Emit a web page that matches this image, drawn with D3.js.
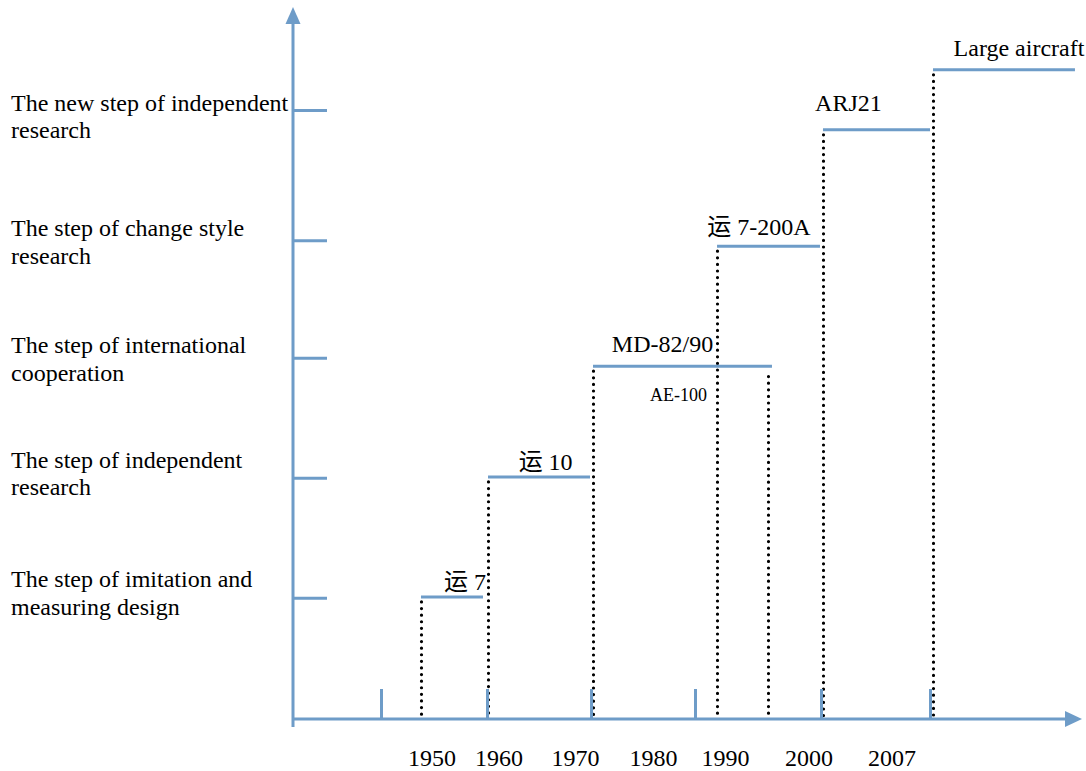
<!DOCTYPE html>
<html>
<head>
<meta charset="utf-8">
<script src="https://cdn.jsdelivr.net/npm/d3@7"></script>
<style>
	body { margin: 0; background: #fff; }
	svg text { font-family: "Liberation Serif", "Times New Roman", "Noto Sans CJK SC", serif; fill: #000; }
</style>
</head>
<body>
<svg id="steps" width="1086" height="771" viewBox="0 0 1086 771"></svg>
<script>
// stages on the vertical axis, bottom to top (levels in axis units)
const stage_names = [
	["The step of imitation and", "measuring design"],
	["The step of independent", "research"],
	["The step of international", "cooperation"],
	["The step of change style", "research"],
	["The new step of independent", "research"],
];
const stage_levels = [1.01, 2.01, 3.01, 3.99, 5.075];
const stage_label_levels = [1.1, 2.092, 3.05, 4.025, 5.067];

// aircraft programmes (x in axis units 0-100)
const aircraft_names = ["运 7", "运 10", "MD-82/90", "运 7-200A", "ARJ21", "Large aircraft"];
const aircraft_start = [16.26, 24.78, 38.12, 53.88, 67.34, 81.32];
const aircraft_end = [24.14, 37.74, 60.86, 66.96, 80.94, 99.36];
const aircraft_level = [1.017, 2.017, 2.94, 3.94, 4.91, 5.41];
const aircraft_label_x = [21.86, 32.1, 46.95, 59.2, 70.58, 92.25];
const aircraft_label_level = [1.075, 2.075, 3.058, 4.033, 5.067, 5.525];

// AE-100 sits under the MD-82/90 bar
const ae_name = "AE-100";
const ae_label_x = 48.98;
const ae_label_level = 2.65;
const ae_end = 60.36;
const ae_end_level = 2.895;

// bottom axis
const year_labels = ["1950", "1960", "1970", "1980", "1990", "2000", "2007"];
const year_label_x = [17.6, 26.11, 35.83, 45.74, 54.89, 65.5, 76.05];
const axis_mark_x = [11.18, 24.65, 37.87, 51.08, 67.09, 80.94];

class StepChart {

	constructor(svg_element_id) {
		this.svg = d3.select('#' + svg_element_id);
		const blue = "#6e9cc8";

		const x = d3.scaleLinear().domain([0, 100]).range([293, 1080]);
		const y = d3.scaleLinear().domain([0, 6]).range([719, -1]);
		this.x = x;
		this.y = y;

		// dotted drop lines
		const drops = aircraft_start.map((s, i) => ({x: s, level: aircraft_level[i]}));
		drops.push({x: ae_end, level: ae_end_level});

		this.svg.append("g").selectAll(".drop")
			.data(drops)
			.enter()
			.append("line")
			.classed("drop", true)
			.attr("x1", d => Math.round(x(d.x)) + 0.5)
			.attr("x2", d => Math.round(x(d.x)) + 0.5)
			.attr("y1", d => y(d.level) + 5)
			.attr("y2", y(0))
			.style("stroke", "#000")
			.style("stroke-width", 3.2)
			.style("stroke-linecap", "round")
			.style("stroke-dasharray", "0 6.6");

		// stage ticks on the vertical axis
		const stage_axis = d3.axisRight(y)
			.tickValues(stage_levels)
			.tickSize(34)
			.tickFormat("");
		const stage_g = this.svg.append("g")
			.attr("transform", "translate(293,0)")
			.call(stage_axis);
		stage_g.select(".domain").remove();
		stage_g.selectAll(".tick line")
			.style("stroke", blue)
			.style("stroke-width", 3);

		// short marks on the horizontal axis
		const mark_axis = d3.axisTop(x)
			.tickValues(axis_mark_x)
			.tickSize(30)
			.tickFormat("");
		const mark_g = this.svg.append("g")
			.attr("transform", "translate(0," + y(0) + ")")
			.call(mark_axis);
		mark_g.select(".domain").remove();
		mark_g.selectAll(".tick line")
			.style("stroke", blue)
			.style("stroke-width", 3);

		// year labels
		const year_axis = d3.axisBottom(x)
			.tickValues(year_label_x)
			.tickSize(0)
			.tickPadding(30)
			.tickFormat((d, i) => year_labels[i]);
		const year_g = this.svg.append("g")
			.attr("transform", "translate(0," + y(0) + ")")
			.call(year_axis);
		year_g.select(".domain").remove();
		year_g.attr("font-size", 24)
			.attr("font-family", null);

		// main axes with arrow heads
		const axes = this.svg.append("g");
		axes.append("line")
			.attr("x1", x(0)).attr("x2", x(0))
			.attr("y1", y(0) + 8).attr("y2", 22)
			.style("stroke", blue).style("stroke-width", 3);
		axes.append("path")
			.attr("d", "M" + (x(0) - 7.5) + ",24L" + x(0) + ",7L" + (x(0) + 7.5) + ",24Z")
			.style("fill", blue);
		axes.append("line")
			.attr("x1", x(0)).attr("x2", x(100) - 14)
			.attr("y1", y(0)).attr("y2", y(0))
			.style("stroke", blue).style("stroke-width", 3);
		axes.append("path")
			.attr("d", "M" + (x(100) - 15) + "," + (y(0) - 8) + "L" + (x(100) + 2) + "," + y(0) + "L" + (x(100) - 15) + "," + (y(0) + 8) + "Z")
			.style("fill", blue);

		// step bars
		const steps = aircraft_names.map((n, i) => ({
			name: n, start: aircraft_start[i], end: aircraft_end[i], level: aircraft_level[i],
			lx: aircraft_label_x[i], ll: aircraft_label_level[i]
		}));

		this.svg.append("g").selectAll(".step")
			.data(steps)
			.enter()
			.append("line")
			.classed("step", true)
			.attr("x1", d => x(d.start))
			.attr("x2", d => x(d.end))
			.attr("y1", d => y(d.level))
			.attr("y2", d => y(d.level))
			.style("stroke", blue)
			.style("stroke-width", 3);

		this.svg.append("g").selectAll(".step-label")
			.data(steps)
			.enter()
			.append("text")
			.classed("step-label", true)
			.attr("x", d => x(d.lx))
			.attr("y", d => y(d.ll))
			.attr("text-anchor", "middle")
			.style("font-size", "24px")
			.text(d => d.name);

		this.svg.append("text")
			.attr("x", x(ae_label_x))
			.attr("y", y(ae_label_level))
			.attr("text-anchor", "middle")
			.style("font-size", "18px")
			.text(ae_name);

		// stage names on the left
		const stage_text = this.svg.append("g").selectAll(".stage-label")
			.data(stage_names)
			.enter()
			.append("text")
			.classed("stage-label", true)
			.attr("x", 11)
			.attr("y", (d, i) => y(stage_label_levels[i]))
			.style("font-size", "24px");
		stage_text.selectAll("tspan")
			.data(d => d)
			.enter()
			.append("tspan")
			.attr("x", 11)
			.attr("dy", (d, i) => i === 0 ? 0 : 27.5)
			.text(d => d);
	}
}

function whenDocumentLoaded(action) {
	if (document.readyState === "loading") {
		document.addEventListener("DOMContentLoaded", action);
	} else {
		action();
	}
}

whenDocumentLoaded(() => {
	plot_object = new StepChart('steps');
});
</script>
</body>
</html>
